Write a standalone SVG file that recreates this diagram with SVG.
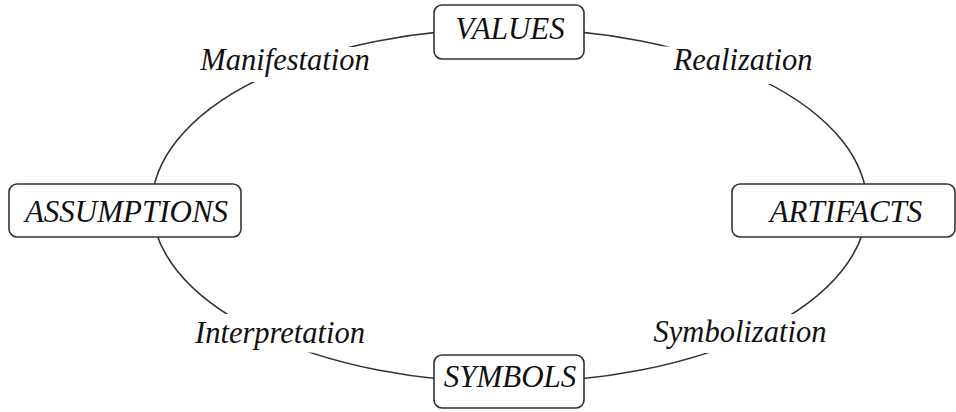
<svg xmlns="http://www.w3.org/2000/svg" width="956" height="412" viewBox="0 0 956 412">
<style>
.box{fill:#fff;stroke:#333;stroke-width:1.6}
.nt{font-family:"Liberation Serif","Times New Roman",serif;font-style:italic;font-size:31px;fill:#111;text-anchor:middle}
.lt{font-family:"Liberation Serif","Times New Roman",serif;font-style:italic;font-size:30.5px;fill:#111;text-anchor:middle}
.bg{fill:#fff;stroke:none}
.edge{fill:none;stroke:#333;stroke-width:1.6}
</style>
<rect width="956" height="412" fill="#fff"/>
<g id="connectors">
<ellipse class="edge" cx="509.5" cy="205.5" rx="357.5" ry="177"/>
<g id="label-manifestation"><rect class="bg" x="196" y="47" width="178" height="35"/><text class="lt" x="285" y="70">Manifestation</text></g>
<g id="label-realization"><rect class="bg" x="662" y="46.5" width="158" height="37.5"/><text class="lt" x="743" y="70">Realization</text></g>
<g id="label-interpretation"><rect class="bg" x="188" y="314" width="184" height="38.5"/><text class="lt" x="280" y="343">Interpretation</text></g>
<g id="label-symbolization"><rect class="bg" x="648" y="314" width="184" height="39"/><text class="lt" x="740" y="342">Symbolization</text></g>
</g>
<g id="node-values"><rect class="box" x="434" y="5" width="150" height="54" rx="8"/><text class="nt" x="510" y="39">VALUES</text></g>
<g id="node-assumptions"><rect class="box" x="9" y="184" width="232" height="53" rx="8"/><text class="nt" x="126.5" y="222">ASSUMPTIONS</text></g>
<g id="node-artifacts"><rect class="box" x="732" y="184" width="223" height="53" rx="8"/><text class="nt" x="846" y="222">ARTIFACTS</text></g>
<g id="node-symbols"><rect class="box" x="434" y="355" width="150" height="53" rx="8"/><text class="nt" x="510" y="387">SYMBOLS</text></g>
</svg>
